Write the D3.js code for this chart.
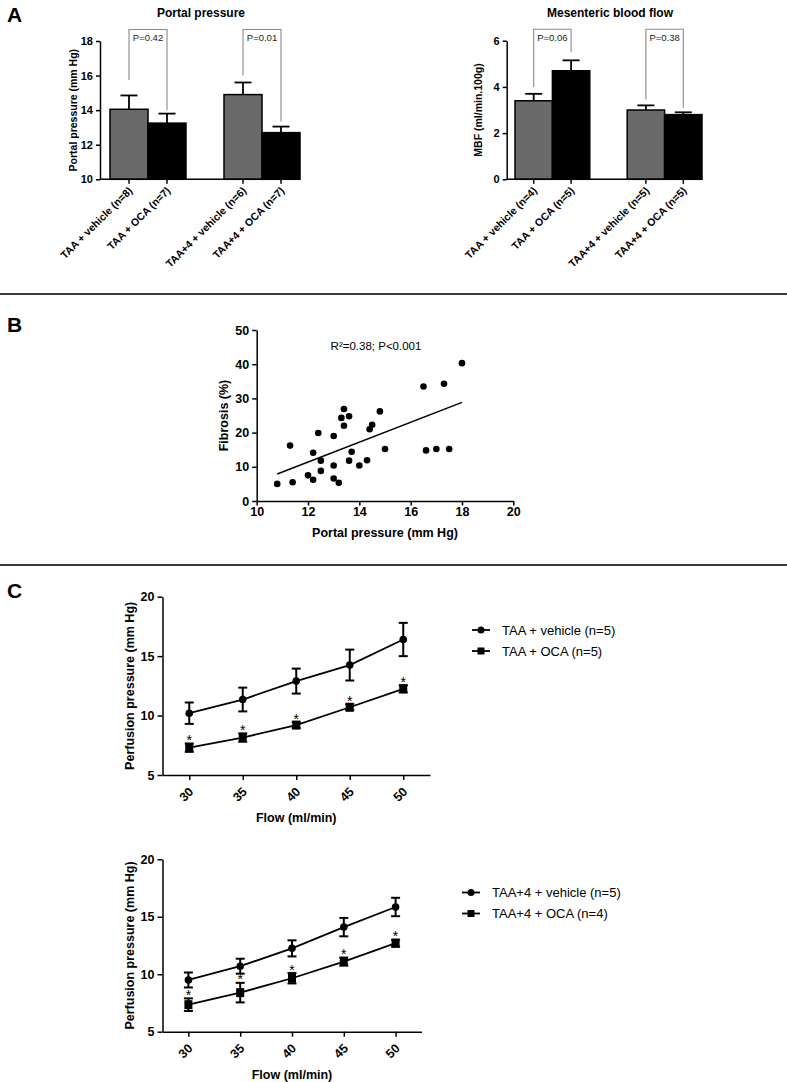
<!DOCTYPE html>
<html>
<head>
<meta charset="utf-8">
<script src="https://cdn.jsdelivr.net/npm/d3@7"></script>
<style>
  html, body { margin: 0; padding: 0; background: #fff; }
  svg { display: block; }
  text { font-family: 'Liberation Sans', Arial, Helvetica, sans-serif; }
</style>
</head>
<body>
<svg id="chart" width="787" height="1082"></svg>
<script>
// ---------------- DATA ----------------
// Panel A – portal pressure
const ppCategories = ["TAA + vehicle (n=8)", "TAA + OCA (n=7)", "TAA+4 + vehicle (n=6)", "TAA+4 + OCA (n=7)"];
const ppGroups = ["vehicle", "OCA", "vehicle", "OCA"];
const ppMeans = [14.05, 13.25, 14.9, 12.7];
const ppErr = [0.8, 0.55, 0.7, 0.35];
const ppTicks = [10, 12, 14, 16, 18];
const ppPvalues = ["P=0.42", "P=0.01"];
const ppBracketEnds = [[15.75, 14.0], [16.0, 13.35]];

// Panel A – mesenteric blood flow
const mbfCategories = ["TAA + vehicle (n=4)", "TAA + OCA (n=5)", "TAA+4 + vehicle (n=5)", "TAA+4 + OCA (n=5)"];
const mbfGroups = ["vehicle", "OCA", "vehicle", "OCA"];
const mbfMeans = [3.4, 4.7, 3.0, 2.8];
const mbfErr = [0.3, 0.45, 0.2, 0.1];
const mbfTicks = [0, 2, 4, 6];
const mbfPvalues = ["P=0.06", "P=0.38"];
const mbfBracketEnds = [[4.0, 5.5], [3.45, 3.1]];

// Panel B – fibrosis vs portal pressure
const fibPortal = [10.8, 11.4, 11.3, 12.0, 12.2, 12.2, 12.4, 12.5, 12.5, 13.0, 13.0, 13.0, 13.2, 13.3, 13.4, 13.4,
                   13.6, 13.6, 13.7, 14.0, 14.3, 14.4, 14.5, 14.8, 15.0, 16.5, 16.6, 17.0, 17.3, 17.5, 18.0];
const fibPercent = [5.0, 5.5, 16.2, 7.5, 6.2, 14.1, 19.9, 11.8, 8.8, 19.0, 10.4, 6.6, 5.3, 24.3, 26.9, 22.0,
                    24.8, 11.8, 14.4, 10.4, 11.9, 21.0, 22.3, 26.2, 15.2, 33.5, 14.8, 15.2, 34.3, 15.2, 40.3];
const fitPortal = [10.8, 18.0];
const fitFibrosis = [7.9, 28.85];
const fibXTicks = [10, 12, 14, 16, 18, 20];
const fibYTicks = [0, 10, 20, 30, 40, 50];
const fibNote = "R\u00B2=0.38; P<0.001";

// Panel C – perfusion pressure vs flow
const flowLevels = [30, 35, 40, 45, 50];
const perfTicks = [5, 10, 15, 20];
const c1Names = ["TAA + vehicle (n=5)", "TAA + OCA (n=5)"];
const c1VehMean = [10.2, 11.35, 12.9, 14.25, 16.4];
const c1VehSem = [0.9, 1.0, 1.05, 1.3, 1.4];
const c1OcaMean = [7.3, 8.15, 9.2, 10.7, 12.25];
const c1OcaSem = [0.35, 0.35, 0.25, 0.25, 0.3];
const c1Sig = [true, true, true, true, true];
const c2Names = ["TAA+4 + vehicle (n=5)", "TAA+4 + OCA (n=4)"];
const c2VehMean = [9.5, 10.7, 12.25, 14.1, 15.85];
const c2VehSem = [0.65, 0.65, 0.7, 0.8, 0.8];
const c2OcaMean = [7.35, 8.4, 9.65, 11.1, 12.7];
const c2OcaSem = [0.55, 0.85, 0.45, 0.35, 0.3];
const c2Sig = [true, true, true, true, true];

// ---------------- DRAWING ----------------
const svg = d3.select("#chart");
svg.append("rect").attr("width", 787).attr("height", 1082).attr("fill", "#fff");

const GRAY = "#6a6a6a";
const FONT = "'Liberation Sans', Arial, Helvetica, sans-serif";

function panelLetter(t, x, y) {
  svg.append("text").attr("x", x).attr("y", y).attr("font-size", 21).attr("font-weight", "bold").text(t);
}
panelLetter("A", 7, 22);
panelLetter("B", 7, 332);
panelLetter("C", 7, 598);

// separators
[294, 565].forEach(yy => svg.append("line").attr("x1", 0).attr("x2", 787).attr("y1", yy).attr("y2", yy)
  .attr("stroke", "#3a3a3a").attr("stroke-width", 2));

function styleAxis(g, fs) {
  g.select(".domain").attr("stroke", "#000").attr("stroke-width", 1.5);
  g.selectAll(".tick line").attr("stroke", "#000").attr("stroke-width", 1.5);
  g.selectAll(".tick text").attr("font-size", fs).attr("font-weight", "bold").attr("fill", "#000")
    .attr("font-family", FONT);
}

function barPanel(cfg) {
  const g = svg.append("g");
  const slots = [cfg.cats[0], cfg.cats[1], "__gap__", cfg.cats[2], cfg.cats[3]];
  const x = d3.scaleBand().domain(slots).range([cfg.barStart, cfg.barEnd]).padding(0);
  const y = d3.scaleLinear().domain(cfg.domain).range([cfg.yBottom, cfg.yTop]);
  const bw = x.bandwidth();
  const base = y(cfg.domain[0]);

  // bars
  g.selectAll("rect.bar").data(cfg.cats).join("rect").attr("class", "bar")
    .attr("x", d => x(d)).attr("width", bw)
    .attr("y", (d, i) => y(cfg.means[i]))
    .attr("height", (d, i) => base - y(cfg.means[i]))
    .attr("fill", (d, i) => cfg.groups[i] === "vehicle" ? GRAY : "#000")
    .attr("stroke", "#000").attr("stroke-width", 1.5);

  // error bars (upward only)
  cfg.cats.forEach((d, i) => {
    const cx = x(d) + bw / 2;
    const top = y(cfg.means[i] + cfg.errs[i]);
    g.append("line").attr("x1", cx).attr("x2", cx).attr("y1", y(cfg.means[i])).attr("y2", top)
      .attr("stroke", "#000").attr("stroke-width", 1.8);
    g.append("line").attr("x1", cx - 8.5).attr("x2", cx + 8.5).attr("y1", top).attr("y2", top)
      .attr("stroke", "#000").attr("stroke-width", 1.8);
  });

  // y axis
  const ya = g.append("g").attr("transform", `translate(${cfg.axisX},0)`)
    .call(d3.axisLeft(y).tickValues(cfg.ticks).tickFormat(d3.format("d")).tickSize(4).tickSizeOuter(0).tickPadding(3));
  styleAxis(ya, 11);

  // x axis line
  g.append("line").attr("x1", cfg.axisX).attr("x2", cfg.barEnd).attr("y1", base).attr("y2", base)
    .attr("stroke", "#000").attr("stroke-width", 1.5);
  cfg.cats.forEach(d => {
    const cx = x(d) + bw / 2;
    g.append("line").attr("x1", cx).attr("x2", cx).attr("y1", base).attr("y2", base + 4.5)
      .attr("stroke", "#000").attr("stroke-width", 1.5);
    g.append("text").attr("transform", `translate(${cx + 4},${base + 12}) rotate(-45)`)
      .attr("text-anchor", "end").attr("font-size", 10.5).attr("font-weight", "bold").text(d);
  });

  // brackets
  const bTop = cfg.yTop - 11.5;
  [[0, 1], [2, 3]].forEach((pair, k) => {
    const xl = x(cfg.cats[pair[0]]) + bw / 2;
    const xr = x(cfg.cats[pair[1]]) + bw / 2;
    const yl = y(cfg.bracketEnds[k][0]);
    const yr = y(cfg.bracketEnds[k][1]);
    g.append("path").attr("d", `M${xl},${yl}V${bTop}H${xr}V${yr}`)
      .attr("fill", "none").attr("stroke", "#8a8a8a").attr("stroke-width", 1.1);
    g.append("text").attr("x", (xl + xr) / 2).attr("y", bTop + 11.5).attr("text-anchor", "middle")
      .attr("font-size", 9.5).attr("fill", "#222").text(cfg.pvals[k]);
  });

  // title and y label
  svg.append("text").attr("x", cfg.titleX).attr("y", 17).attr("text-anchor", "middle")
    .attr("font-size", 12).attr("font-weight", "bold").text(cfg.title);
  svg.append("text").attr("transform", `translate(${cfg.ylabelX},${(cfg.yTop + cfg.yBottom) / 2}) rotate(-90)`)
    .attr("text-anchor", "middle").attr("font-size", 10.5).attr("font-weight", "bold").text(cfg.ylabel);
}

barPanel({
  cats: ppCategories, groups: ppGroups, means: ppMeans, errs: ppErr, ticks: ppTicks,
  domain: [10, 18], yTop: 41, yBottom: 179.3, axisX: 100, barStart: 110, barEnd: 300,
  pvals: ppPvalues, bracketEnds: ppBracketEnds,
  title: "Portal pressure", titleX: 201, ylabel: "Portal pressure (mm Hg)", ylabelX: 77
});
barPanel({
  cats: mbfCategories, groups: mbfGroups, means: mbfMeans, errs: mbfErr, ticks: mbfTicks,
  domain: [0, 6], yTop: 40.7, yBottom: 179.3, axisX: 506.7, barStart: 515, barEnd: 702,
  pvals: mbfPvalues, bracketEnds: mbfBracketEnds,
  title: "Mesenteric blood flow", titleX: 610, ylabel: "MBF (ml/min.100g)", ylabelX: 482
});

// ---------------- Panel B ----------------
(function () {
  const g = svg.append("g");
  const x = d3.scaleLinear().domain([10, 20]).range([256.7, 513.3]);
  const y = d3.scaleLinear().domain([0, 50]).range([501, 330]);
  const xa = g.append("g").attr("transform", `translate(0,${y(0)})`)
    .call(d3.axisBottom(x).tickValues(fibXTicks).tickSize(4.5).tickSizeOuter(0).tickPadding(2));
  styleAxis(xa, 12.5);
  const ya = g.append("g").attr("transform", `translate(${x(10)},0)`)
    .call(d3.axisLeft(y).tickValues(fibYTicks).tickSize(4.5).tickSizeOuter(0).tickPadding(3));
  styleAxis(ya, 12.5);

  g.append("line").attr("x1", x(fitPortal[0])).attr("y1", y(fitFibrosis[0]))
    .attr("x2", x(fitPortal[1])).attr("y2", y(fitFibrosis[1]))
    .attr("stroke", "#000").attr("stroke-width", 1.5);

  g.selectAll("circle.pt").data(fibPortal).join("circle").attr("class", "pt")
    .attr("cx", d => x(d)).attr("cy", (d, i) => y(fibPercent[i])).attr("r", 3.3).attr("fill", "#000");

  g.append("text").attr("x", 376).attr("y", 350).attr("text-anchor", "middle").attr("font-size", 11.5).text(fibNote);
  g.append("text").attr("x", (x(10) + x(20)) / 2).attr("y", 537).attr("text-anchor", "middle")
    .attr("font-size", 12.5).attr("font-weight", "bold").text("Portal pressure (mm Hg)");
  g.append("text").attr("transform", `translate(228,${(y(0) + y(50)) / 2}) rotate(-90)`)
    .attr("text-anchor", "middle").attr("font-size", 12.5).attr("font-weight", "bold").text("Fibrosis (%)");
})();

// ---------------- Panel C ----------------
function flowPanel(cfg) {
  const g = svg.append("g");
  const x = d3.scaleLinear().domain([27.5, 52.5]).range([cfg.x0, cfg.x1]);
  const y = d3.scaleLinear().domain([5, 20]).range([cfg.yBottom, cfg.yTop]);

  const ya = g.append("g").attr("transform", `translate(${cfg.x0},0)`)
    .call(d3.axisLeft(y).tickValues(perfTicks).tickSize(5).tickSizeOuter(0).tickPadding(3));
  styleAxis(ya, 12.5);
  const xa = g.append("g").attr("transform", `translate(0,${cfg.yBottom})`)
    .call(d3.axisBottom(x).tickValues(flowLevels).tickFormat(() => "").tickSize(5).tickSizeOuter(0));
  styleAxis(xa, 12.5);
  // rotated tick labels
  flowLevels.forEach(v => {
    g.append("text").attr("transform", `translate(${x(v) + 5},${cfg.yBottom + 17.5}) rotate(-45)`)
      .attr("text-anchor", "end").attr("font-size", 12.5).attr("font-weight", "bold").text(v);
  });

  const line = d3.line().x((d, i) => x(flowLevels[i])).y(d => y(d));
  const series = [
    { mean: cfg.vehMean, sem: cfg.vehSem, shape: "circle" },
    { mean: cfg.ocaMean, sem: cfg.ocaSem, shape: "square" }
  ];
  series.forEach(s => {
    g.append("path").attr("d", line(s.mean)).attr("fill", "none").attr("stroke", "#000").attr("stroke-width", 1.8);
    s.mean.forEach((m, i) => {
      const cx = x(flowLevels[i]);
      const t = y(m + s.sem[i]), b = y(m - s.sem[i]);
      g.append("line").attr("x1", cx).attr("x2", cx).attr("y1", t).attr("y2", b).attr("stroke", "#000").attr("stroke-width", 2);
      [t, b].forEach(yy => g.append("line").attr("x1", cx - 4.5).attr("x2", cx + 4.5).attr("y1", yy).attr("y2", yy)
        .attr("stroke", "#000").attr("stroke-width", 2));
      if (s.shape === "circle") {
        g.append("circle").attr("cx", cx).attr("cy", y(m)).attr("r", 3.8).attr("fill", "#000");
      } else {
        g.append("rect").attr("x", cx - 4).attr("y", y(m) - 4.5).attr("width", 8).attr("height", 9).attr("fill", "#000");
      }
    });
  });
  // significance asterisks above OCA series
  cfg.sig.forEach((sg, i) => {
    if (!sg) return;
    const top = y(cfg.ocaMean[i] + cfg.ocaSem[i]);
    g.append("text").attr("x", x(flowLevels[i])).attr("y", top + 1.5).attr("text-anchor", "middle")
      .attr("font-size", 14).text("*");
  });

  // axis titles
  g.append("text").attr("x", (cfg.x0 + cfg.x1) / 2).attr("y", cfg.yBottom + 47).attr("text-anchor", "middle")
    .attr("font-size", 12.5).attr("font-weight", "bold").text("Flow (ml/min)");
  g.append("text").attr("transform", `translate(134,${(cfg.yTop + cfg.yBottom) / 2}) rotate(-90)`)
    .attr("text-anchor", "middle").attr("font-size", 12.5).attr("font-weight", "bold").text("Perfusion pressure (mm Hg)");

  // legend
  cfg.names.forEach((nm, k) => {
    const ly = cfg.legY + k * 21;
    const lx = cfg.legX;
    g.append("line").attr("x1", lx).attr("x2", lx + 18).attr("y1", ly).attr("y2", ly).attr("stroke", "#000").attr("stroke-width", 1.8);
    if (k === 0) g.append("circle").attr("cx", lx + 9).attr("cy", ly).attr("r", 3.5).attr("fill", "#000");
    else g.append("rect").attr("x", lx + 5.5).attr("y", ly - 3.5).attr("width", 7).attr("height", 7).attr("fill", "#000");
    g.append("text").attr("x", lx + 30).attr("y", ly + 4.5).attr("font-size", 13).text(nm);
  });
}

flowPanel({
  x0: 162.5, x1: 430, yTop: 596.7, yBottom: 775,
  vehMean: c1VehMean, vehSem: c1VehSem, ocaMean: c1OcaMean, ocaSem: c1OcaSem, sig: c1Sig,
  names: c1Names, legX: 472, legY: 630
});
flowPanel({
  x0: 162.5, x1: 421.5, yTop: 859.3, yBottom: 1031.7,
  vehMean: c2VehMean, vehSem: c2VehSem, ocaMean: c2OcaMean, ocaSem: c2OcaSem, sig: c2Sig,
  names: c2Names, legX: 462, legY: 892.5
});
</script>
</body>
</html>
